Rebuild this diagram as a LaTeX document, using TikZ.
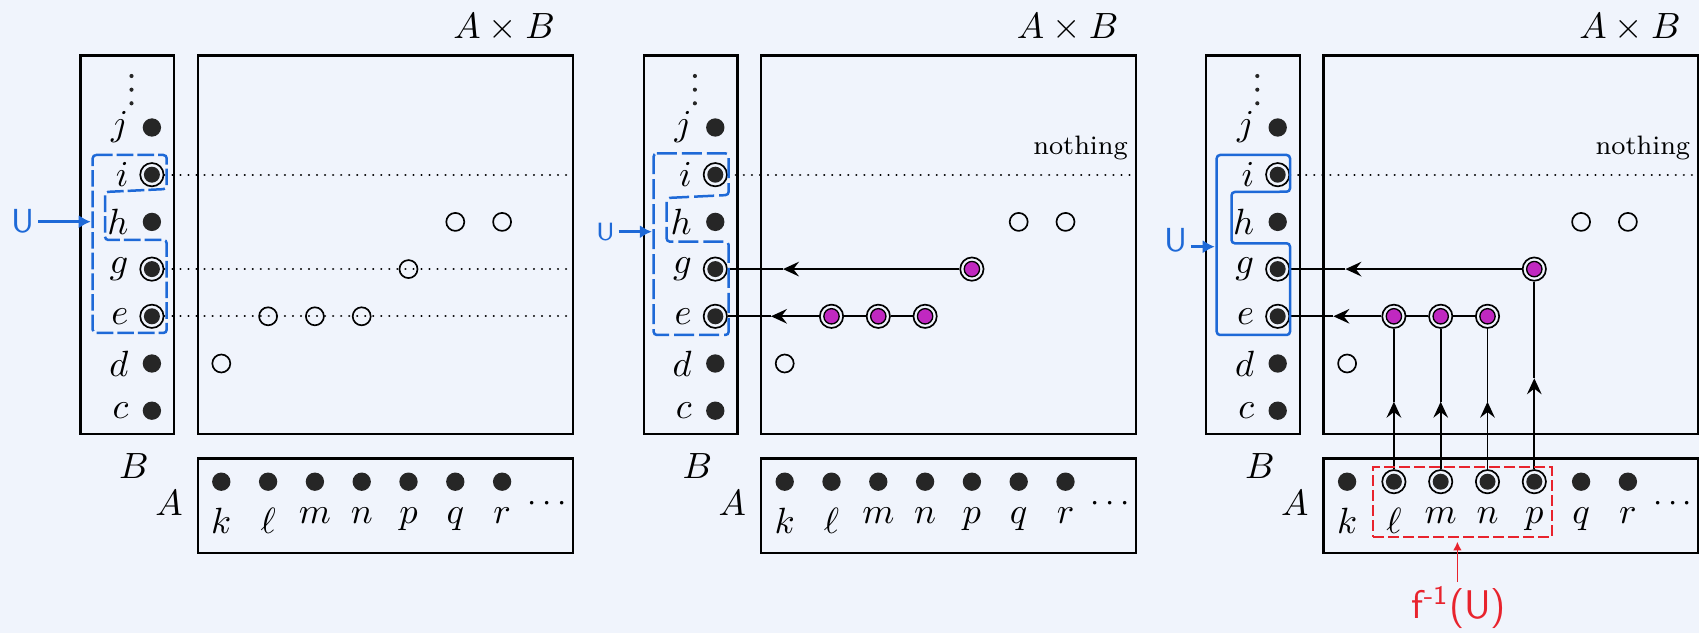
\documentclass[tikz,border=0pt]{standalone}
\usetikzlibrary{arrows.meta}
\definecolor{bgc}{RGB}{240,244,252}
\definecolor{dotc}{RGB}{38,38,38}
\definecolor{magc}{RGB}{192,40,192}
\definecolor{hblue}{RGB}{30,105,215}
\definecolor{hred}{RGB}{232,35,45}

\newcommand{\mypanel}[3]{%
\begin{scope}[xshift=#2]
\node[box, minimum width=28.11pt, minimum height=113.58pt] (#1-Bbox) at (127.25,245) {};
\node[box, minimum width=112.5pt, minimum height=113.58pt] (#1-ABbox) at (385.3,245) {};
\node[box, minimum width=112.5pt, minimum height=28.32pt] (#1-Abox) at (385.3,505.5) {};
\node[mlab, anchor=base] (#1-title) at (504.2,38.3) {$A\times B$};
\node[mlab] (#1-Blab) at (134,466) {$B$};
\node[mlab] (#1-Alab) at (169,503) {$A$};
% vertical ellipsis above j
\fill[dotc] (131.5,76) circle (0.62pt) (131.5,89.7) circle (0.62pt) (131.5,103.3) circle (0.62pt);
% B column
\node[bdot] (#1-j) at (151.9,127.5) {};
\node[ringdot] (#1-i) at (151.9,174.7) {};
\node[bdot] (#1-h) at (151.9,221.9) {};
\node[ringdot] (#1-g) at (151.9,269.1) {};
\node[ringdot] (#1-e) at (151.9,316.3) {};
\node[bdot] (#1-d) at (151.9,363.5) {};
\node[bdot] (#1-c) at (151.9,410.7) {};
\foreach \nm in {j,i,h,g,e,d,c}
  \node[mlab, anchor=east] (#1-l\nm) at ([xshift=-6.87pt]#1-\nm.center) {$\nm$};
% A row
\ifnum#3=3
  \node[bdot] (#1-Ak) at (221.3,481.7) {};
  \node[ringdot] (#1-Al) at (268.1,481.7) {};
  \node[ringdot] (#1-Am) at (314.9,481.7) {};
  \node[ringdot] (#1-An) at (361.7,481.7) {};
  \node[ringdot] (#1-Ap) at (408.5,481.7) {};
  \node[bdot] (#1-Aq) at (455.3,481.7) {};
  \node[bdot] (#1-Ar) at (502.1,481.7) {};
\else
  \node[bdot] (#1-Ak) at (221.3,481.7) {};
  \node[bdot] (#1-Al) at (268.1,481.7) {};
  \node[bdot] (#1-Am) at (314.9,481.7) {};
  \node[bdot] (#1-An) at (361.7,481.7) {};
  \node[bdot] (#1-Ap) at (408.5,481.7) {};
  \node[bdot] (#1-Aq) at (455.3,481.7) {};
  \node[bdot] (#1-Ar) at (502.1,481.7) {};
\fi
\foreach \nm/\tx in {k/k,l/\ell,m/m,n/n,p/p,q/q,r/r}
  \node[mlab, anchor=north] (#1-t\nm) at ([yshift=-7.6pt]#1-A\nm.center) {$\tx$};
\node[inner sep=0, font=\fontsize{10}{12}\selectfont] (#1-more) at (547,504) {$\cdots$};
% points of the graph
\node[odot] (#1-dk) at (221.3,363.5) {};
\node[odot] (#1-hq) at (455.3,221.9) {};
\node[odot] (#1-hr) at (502.1,221.9) {};
\draw[dotline] (#1-i.east) -- (#1-i.east -| #1-ABbox.east);
\ifnum#3=1
  \draw[dotline] (#1-g.east) -- (#1-g.east -| #1-ABbox.east);
  \draw[dotline] (#1-e.east) -- (#1-e.east -| #1-ABbox.east);
  \node[odot] (#1-el) at (268.1,316.3) {};
  \node[odot] (#1-em) at (314.9,316.3) {};
  \node[odot] (#1-en) at (361.7,316.3) {};
  \node[odot] (#1-gp) at (408.5,269.1) {};
\else
  \node[font=\footnotesize, anchor=base east, inner sep=0] (#1-nothing) at (565,155) {nothing};
  \node[magdot] (#1-el) at (268.1,316.3) {};
  \node[magdot] (#1-em) at (314.9,316.3) {};
  \node[magdot] (#1-en) at (361.7,316.3) {};
  \node[magdot] (#1-gp) at (408.5,269.1) {};
  \coordinate (#1-tg) at (219.6,269.1);
  \coordinate (#1-te) at (207.6,316.3);
  \draw[conn, tip] (#1-gp) -- (#1-tg);
  \draw[conn] (#1-tg) -- (#1-g);
  \draw[conn] (#1-en) -- (#1-em) -- (#1-el);
  \draw[conn, tip] (#1-el) -- (#1-te);
  \draw[conn] (#1-te) -- (#1-e);
\fi
\ifnum#3=3
  \coordinate (#1-tl) at (268.1,401.7);
  \coordinate (#1-tm) at (314.9,401.7);
  \coordinate (#1-tn) at (361.7,401.7);
  \coordinate (#1-tp) at (408.5,378.3);
  \draw[conn, tip] (#1-Al) -- (#1-tl);
  \draw[conn] (#1-tl) -- (#1-el);
  \draw[conn, tip] (#1-Am) -- (#1-tm);
  \draw[conn] (#1-tm) -- (#1-em);
  \draw[conn, tip] (#1-An) -- (#1-tn);
  \draw[conn] (#1-tn) -- (#1-en);
  \draw[conn, tip] (#1-Ap) -- (#1-tp);
  \draw[conn] (#1-tp) -- (#1-gp);
  \node[redbox, minimum width=53.64pt, minimum height=20.82pt] (#1-fbox) at (336.7,502) {};
  \node[redtext, anchor=north] (#1-flab) at (333.2,582) {f\textsuperscript{-1}(U)};
  \coordinate (#1-ftip) at (331.6,541.7);
  \draw[redarrow] (#1-flab.north -| #1-ftip) -- (#1-ftip);
\fi
\end{scope}}

\begin{document}
\begin{tikzpicture}[x=0.3pt,y=-0.3pt,
  box/.style={draw, line width=0.72pt, rectangle, inner sep=0},
  bdot/.style={circle, fill=dotc, inner sep=0, minimum size=5.5pt},
  ringdot/.style={circle, draw, line width=0.5pt, fill=bgc, inner sep=0, minimum size=7pt,
    path picture={\fill[dotc] (path picture bounding box.center) circle (2.4pt);}},
  magdot/.style={circle, draw, line width=0.5pt, fill=bgc, inner sep=0, minimum size=7pt,
    path picture={\filldraw[fill=magc, draw=black, line width=0.4pt] (path picture bounding box.center) circle (2.3pt);}},
  odot/.style={circle, draw, line width=0.5pt, inner sep=0, minimum size=5.4pt},
  dotline/.style={line width=0.7pt, dash pattern=on 0.01pt off 2.4pt, line cap=round},
  conn/.style={line width=0.5pt},
  tip/.style={-{Stealth[length=4.8pt,width=4.4pt,inset=1.7pt]}},
  mlab/.style={font=\fontsize{11}{13}\selectfont, inner sep=0},
  redbox/.style={draw=hred, line width=0.5pt, dash pattern=on 3.2pt off 1.3pt, inner sep=0},
  redtext/.style={text=hred, font=\sffamily\fontsize{12}{14}\selectfont, inner sep=1pt},
  redarrow/.style={draw=hred, line width=0.45pt, -{Latex[length=2.6pt,width=2.6pt]}},
  bracket/.style={draw=hblue, line width=0.75pt, rounded corners=1pt},
  ulab/.style={text=hblue, font=\sffamily\fontsize{10}{12}\selectfont, inner sep=1pt},
  barrow/.style={draw=hblue, line width=0.8pt, -{Latex[length=3.6pt,width=4pt]}}
]
\fill[bgc] (0,0) rectangle (1699,633);
\useasboundingbox (0,0) rectangle (1699,633);

\mypanel{P1}{0pt}{1}
\mypanel{P2}{169.02pt}{2}
\mypanel{P3}{337.74pt}{3}

% hand-drawn blue brackets around U = {i, g, e}
\draw[bracket, dash pattern=on 5pt off 1.2pt] (92.7,155) -- (166.7,155) -- (166.7,189) -- (105,192) -- (105,240) -- (166.7,240) -- (166.7,333) -- (92.7,333) -- cycle;
\draw[bracket, dash pattern=on 6pt off 1.5pt] (653.6,153.3) -- (728.7,153.3) -- (728.7,195) -- (666.6,198) -- (666.6,241.7) -- (728.7,241.7) -- (728.7,335) -- (653.6,335) -- cycle;
\draw[bracket] (1216.7,155) -- (1290,155) -- (1290,191.7) -- (1231.5,192) -- (1231.5,243.3) -- (1290,243.3) -- (1290,335) -- (1216.7,335) -- cycle;

\node[ulab] (U1) at (23,221.7) {U};
\coordinate (U1e) at (90.7,221.7);
\draw[barrow] (U1.east |- U1e) -- (U1e);
\node[ulab, font=\sffamily\fontsize{7.5}{9}\selectfont] (U2) at (605.4,231.7) {U};
\coordinate (U2e) at (651.8,231.7);
\draw[barrow] (U2.east |- U2e) -- (U2e);
\node[ulab] (U3) at (1175.5,240) {U};
\coordinate (U3e) at (1214.7,246.7);
\draw[barrow] (U3.east |- U3e) -- (U3e);
\end{tikzpicture}
\end{document}
